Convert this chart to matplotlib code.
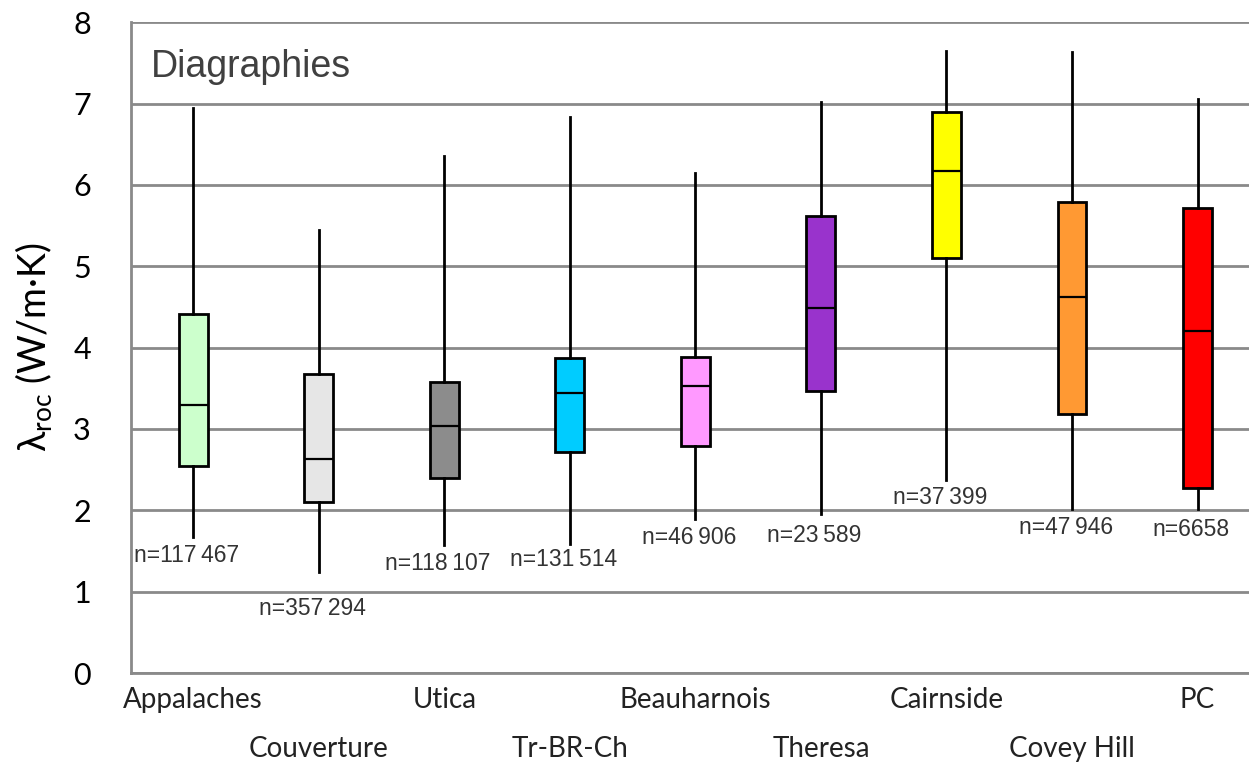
import matplotlib
matplotlib.use("Agg")
import matplotlib.pyplot as plt

categories = ['Appalaches', 'Couverture', 'Utica', 'Tr-BR-Ch', 'Beauharnois',
              'Theresa', 'Cairnside', 'Covey Hill', 'PC']
whislo = [1.67, 1.24, 1.57, 1.59, 1.89, 1.96, 2.37, 2.02, 2.02]
q1 = [2.54, 2.10, 2.40, 2.72, 2.79, 3.47, 5.10, 3.19, 2.27]
med = [3.29, 2.63, 3.04, 3.44, 3.53, 4.49, 6.17, 4.62, 4.21]
q3 = [4.41, 3.67, 3.58, 3.87, 3.89, 5.62, 6.90, 5.79, 5.72]
whishi = [6.94, 5.44, 6.36, 6.83, 6.15, 7.02, 7.65, 7.63, 7.05]
n_values = [117467, 357294, 118107, 131514, 46906, 23589, 37399, 47946, 6658]
colors = ['#ccffcc', '#e6e6e6', '#8c8c8c', '#00ccff', '#ff99ff',
          '#9933cc', '#ffff00', '#ff9933', '#ff0000']
yticks = [0, 1, 2, 3, 4, 5, 6, 7, 8]

plt.rcParams['mathtext.fontset'] = 'custom'
plt.rcParams['mathtext.rm'] = 'Lato'

fig = plt.figure(figsize=(12.49, 7.64), dpi=100)
ax = fig.add_axes([0.105, 0.119, 0.895, 0.852])

stats = []
for i, c in enumerate(categories):
    stats.append(dict(label=c, whislo=whislo[i], q1=q1[i], med=med[i],
                      q3=q3[i], whishi=whishi[i], fliers=[]))
positions = list(range(len(categories)))
bp = ax.bxp(stats, positions=positions, widths=0.23, patch_artist=True,
            showcaps=False, showfliers=False,
            boxprops=dict(linewidth=2.0, edgecolor='black'),
            whiskerprops=dict(linewidth=2.0, color='black'),
            medianprops=dict(linewidth=1.6, color='black'), zorder=3)
for patch, col in zip(bp['boxes'], colors):
    patch.set_facecolor(col)

ax.set_xlim(-0.494, 8.41)
ax.set_ylim(0, 8)
ax.set_yticks(yticks)
ax.set_yticklabels([str(t) for t in yticks], fontsize=22, family='Lato')
ax.tick_params(axis='y', length=0, pad=29)
ax.yaxis.grid(True, color='#8a8a8a', linewidth=2.0, zorder=0)
ax.set_axisbelow(True)

for s in ['top', 'right']:
    ax.spines[s].set_visible(False)
for s in ['left', 'bottom']:
    ax.spines[s].set_color('#8a8a8a')
    ax.spines[s].set_linewidth(2.0)

ax.set_xticks(positions)
ax.set_xticklabels(categories, fontsize=20, family='Lato', color='#222222')
ax.tick_params(axis='x', length=0)
for i, t in enumerate(ax.xaxis.get_major_ticks()):
    t.set_pad(10 if i % 2 == 0 else 45)

offsets = [0.22, 0.45, 0.22, 0.2, 0.22, 0.27, 0.21, 0.23, 0.26]
for i, n in enumerate(n_values):
    s = f"{n:,}".replace(',', '\u2009') if n >= 10000 else str(n)
    ax.text(i - 0.05, whislo[i] - offsets[i], 'n=' + s, ha='center', va='center',
            fontsize=16.5, family='Liberation Sans', color='#333333')

ax.text(0.018, 0.931, 'Diagraphies', transform=ax.transAxes, ha='left', va='center',
        fontsize=27, family='Liberation Sans', color='#404040')

fig.text(0.027, 0.546, r'$\mathregular{λ_{roc}}$ (W/m·K)', rotation=90,
         ha='center', va='center', fontsize=27, family=['Lato', 'DejaVu Sans'])

fig.savefig('out.png', dpi=100, facecolor='white')
